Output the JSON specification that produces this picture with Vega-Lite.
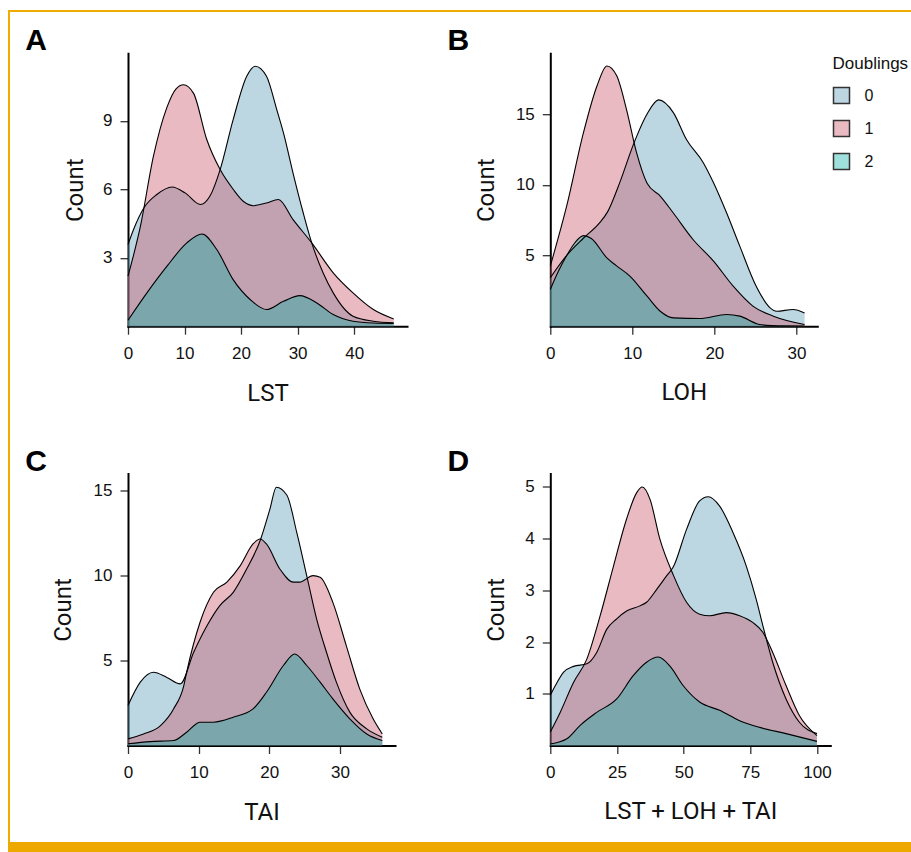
{
  "$schema": "https://vega.github.io/schema/vega-lite/v6.json",
  "padding": {"left": 8, "top": 10, "right": 0, "bottom": 0},
  "background": "white",
  "spacing": 0,
  "config": {
    "view": {"stroke": null},
    "font": "Liberation Sans",
    "axis": {"grid": false, "domainColor": "#000000", "domainWidth": 2, "domainCap": "square", "tickColor": "#333333", "tickWidth": 1.3, "tickSize": 8, "labelFont": "Liberation Sans", "labelFontSize": 17, "labelColor": "#111111", "labelFlush": false, "labelBound": false, "labelOverlap": false, "titleFont": "Roboto", "titleFontSize": 24, "titleFontWeight": "normal", "titleColor": "#111111", "titleBaseline": "alphabetic"},
    "axisX": {"labelPadding": 11},
    "axisY": {"labelPadding": 8, "titleAngle": 270},
    "legend": {"titleFont": "Liberation Sans", "titleFontSize": 17, "titleFontWeight": "normal", "titleColor": "#111111", "labelFont": "Liberation Sans", "labelFontSize": 16, "labelColor": "#111111", "symbolType": "square", "symbolSize": 256, "symbolStrokeColor": "#333333", "symbolStrokeWidth": 1.5, "rowPadding": 11, "titlePadding": 14, "labelOffset": 14, "padding": 0},
    "title": {"font": "Liberation Sans", "fontSize": 30, "fontWeight": "bold", "anchor": "start", "frame": "group", "baseline": "alphabetic", "offset": -3.2, "dx": -102.7, "color": "#000000"}
  },
  "datasets": {
    "lst": [
      {"Doublings": "0", "score": 0, "count": 3.58}, {"Doublings": "0", "score": 1, "count": 4.25}, {"Doublings": "0", "score": 2.8, "count": 5.18}, {"Doublings": "0", "score": 5.1, "count": 5.77}, {"Doublings": "0", "score": 7.8, "count": 6.1}, {"Doublings": "0", "score": 10.1, "count": 5.84}, {"Doublings": "0", "score": 12.8, "count": 5.33}, {"Doublings": "0", "score": 14.5, "count": 5.7}, {"Doublings": "0", "score": 16.3, "count": 6.86}, {"Doublings": "0", "score": 18.6, "count": 9.05}, {"Doublings": "0", "score": 21, "count": 10.95}, {"Doublings": "0", "score": 22.5, "count": 11.39}, {"Doublings": "0", "score": 24.5, "count": 10.95}, {"Doublings": "0", "score": 26.3, "count": 9.5}, {"Doublings": "0", "score": 27.5, "count": 8.47}, {"Doublings": "0", "score": 29.2, "count": 6.7}, {"Doublings": "0", "score": 31, "count": 4.96}, {"Doublings": "0", "score": 32.5, "count": 3.65}, {"Doublings": "0", "score": 34.5, "count": 2.34}, {"Doublings": "0", "score": 36.3, "count": 1.46}, {"Doublings": "0", "score": 39.8, "count": 0.44}, {"Doublings": "0", "score": 43.4, "count": 0.22}, {"Doublings": "0", "score": 47, "count": 0.15},
      {"Doublings": "1", "score": 0, "count": 2.19}, {"Doublings": "1", "score": 2.2, "count": 4.38}, {"Doublings": "1", "score": 4.5, "count": 7.45}, {"Doublings": "1", "score": 6.9, "count": 9.6}, {"Doublings": "1", "score": 8.5, "count": 10.4}, {"Doublings": "1", "score": 9.8, "count": 10.58}, {"Doublings": "1", "score": 11.6, "count": 10.2}, {"Doublings": "1", "score": 13.9, "count": 8.2}, {"Doublings": "1", "score": 16.3, "count": 6.86}, {"Doublings": "1", "score": 18.6, "count": 6.0}, {"Doublings": "1", "score": 20.5, "count": 5.45}, {"Doublings": "1", "score": 22.2, "count": 5.28}, {"Doublings": "1", "score": 24.5, "count": 5.4}, {"Doublings": "1", "score": 26.6, "count": 5.55}, {"Doublings": "1", "score": 29.2, "count": 4.67}, {"Doublings": "1", "score": 32.5, "count": 3.65}, {"Doublings": "1", "score": 36.3, "count": 2.34}, {"Doublings": "1", "score": 39.8, "count": 1.46}, {"Doublings": "1", "score": 43.4, "count": 0.73}, {"Doublings": "1", "score": 47, "count": 0.32},
      {"Doublings": "2", "score": 0, "count": 0.26}, {"Doublings": "2", "score": 3.35, "count": 1.46}, {"Doublings": "2", "score": 6.9, "count": 2.63}, {"Doublings": "2", "score": 10.4, "count": 3.65}, {"Doublings": "2", "score": 13.1, "count": 4.04}, {"Doublings": "2", "score": 15.7, "count": 3.36}, {"Doublings": "2", "score": 18.6, "count": 2.04}, {"Doublings": "2", "score": 21.6, "count": 1.17}, {"Doublings": "2", "score": 24.5, "count": 0.73}, {"Doublings": "2", "score": 27.5, "count": 1.09}, {"Doublings": "2", "score": 30.4, "count": 1.34}, {"Doublings": "2", "score": 33.4, "count": 1.02}, {"Doublings": "2", "score": 36.3, "count": 0.51}, {"Doublings": "2", "score": 39.8, "count": 0.22}, {"Doublings": "2", "score": 43.4, "count": 0.14}, {"Doublings": "2", "score": 47, "count": 0.12}
    ],
    "loh": [
      {"Doublings": "0", "score": 0, "count": 3.42}, {"Doublings": "0", "score": 2, "count": 5.0}, {"Doublings": "0", "score": 4, "count": 6.2}, {"Doublings": "0", "score": 6, "count": 7.3}, {"Doublings": "0", "score": 7, "count": 8.1}, {"Doublings": "0", "score": 8.5, "count": 10.2}, {"Doublings": "0", "score": 10.1, "count": 12.8}, {"Doublings": "0", "score": 11.8, "count": 15.0}, {"Doublings": "0", "score": 13.2, "count": 16.0}, {"Doublings": "0", "score": 15, "count": 15.1}, {"Doublings": "0", "score": 16.6, "count": 13.2}, {"Doublings": "0", "score": 18.65, "count": 11.56}, {"Doublings": "0", "score": 19.9, "count": 10.14}, {"Doublings": "0", "score": 21.5, "count": 8.0}, {"Doublings": "0", "score": 23.1, "count": 5.66}, {"Doublings": "0", "score": 25.1, "count": 2.83}, {"Doublings": "0", "score": 26.8, "count": 1.3}, {"Doublings": "0", "score": 27.6, "count": 1.06}, {"Doublings": "0", "score": 29.6, "count": 1.18}, {"Doublings": "0", "score": 31, "count": 0.94},
      {"Doublings": "1", "score": 0, "count": 4.25}, {"Doublings": "1", "score": 2, "count": 8.5}, {"Doublings": "1", "score": 4.05, "count": 13.7}, {"Doublings": "1", "score": 5.7, "count": 17.0}, {"Doublings": "1", "score": 6.9, "count": 18.4}, {"Doublings": "1", "score": 8.1, "count": 17.7}, {"Doublings": "1", "score": 9.3, "count": 15.3}, {"Doublings": "1", "score": 10.5, "count": 12.3}, {"Doublings": "1", "score": 11.8, "count": 10.1}, {"Doublings": "1", "score": 13.4, "count": 9.2}, {"Doublings": "1", "score": 15, "count": 8.0}, {"Doublings": "1", "score": 17.4, "count": 6.13}, {"Doublings": "1", "score": 19.9, "count": 4.6}, {"Doublings": "1", "score": 22.3, "count": 2.83}, {"Doublings": "1", "score": 24.7, "count": 1.42}, {"Doublings": "1", "score": 27.2, "count": 0.71}, {"Doublings": "1", "score": 31, "count": 0.12},
      {"Doublings": "2", "score": 0, "count": 2.6}, {"Doublings": "2", "score": 1, "count": 3.9}, {"Doublings": "2", "score": 2, "count": 5.0}, {"Doublings": "2", "score": 3, "count": 5.9}, {"Doublings": "2", "score": 4.05, "count": 6.4}, {"Doublings": "2", "score": 5, "count": 6.2}, {"Doublings": "2", "score": 6.9, "count": 4.83}, {"Doublings": "2", "score": 8, "count": 4.3}, {"Doublings": "2", "score": 9.7, "count": 3.54}, {"Doublings": "2", "score": 11.8, "count": 2.12}, {"Doublings": "2", "score": 13.4, "count": 1.06}, {"Doublings": "2", "score": 15, "count": 0.59}, {"Doublings": "2", "score": 18.2, "count": 0.54}, {"Doublings": "2", "score": 21.5, "count": 0.83}, {"Doublings": "2", "score": 23.1, "count": 0.71}, {"Doublings": "2", "score": 25.5, "count": 0.12}, {"Doublings": "2", "score": 27, "count": 0.04}, {"Doublings": "2", "score": 31, "count": 0.01}
    ],
    "tai": [
      {"Doublings": "0", "score": 0, "count": 2.35}, {"Doublings": "0", "score": 1.74, "count": 3.72}, {"Doublings": "0", "score": 3.6, "count": 4.3}, {"Doublings": "0", "score": 5.5, "count": 4.0}, {"Doublings": "0", "score": 7.4, "count": 3.62}, {"Doublings": "0", "score": 9.3, "count": 5.48}, {"Doublings": "0", "score": 11.2, "count": 7.05}, {"Doublings": "0", "score": 13, "count": 8.22}, {"Doublings": "0", "score": 14.9, "count": 9.0}, {"Doublings": "0", "score": 16.8, "count": 10.37}, {"Doublings": "0", "score": 18.7, "count": 12.03}, {"Doublings": "0", "score": 20.1, "count": 13.9}, {"Doublings": "0", "score": 21, "count": 15.17}, {"Doublings": "0", "score": 22.5, "count": 14.7}, {"Doublings": "0", "score": 23.9, "count": 12.5}, {"Doublings": "0", "score": 25.3, "count": 9.98}, {"Doublings": "0", "score": 26.7, "count": 7.44}, {"Doublings": "0", "score": 28.1, "count": 5.48}, {"Doublings": "0", "score": 29.5, "count": 3.72}, {"Doublings": "0", "score": 31.4, "count": 1.96}, {"Doublings": "0", "score": 33.8, "count": 0.98}, {"Doublings": "0", "score": 36, "count": 0.49},
      {"Doublings": "1", "score": 0, "count": 0.39}, {"Doublings": "1", "score": 2.2, "count": 0.68}, {"Doublings": "1", "score": 4.6, "count": 1.17}, {"Doublings": "1", "score": 6.45, "count": 2.15}, {"Doublings": "1", "score": 7.9, "count": 3.52}, {"Doublings": "1", "score": 8.3, "count": 4.3}, {"Doublings": "1", "score": 10.2, "count": 7.24}, {"Doublings": "1", "score": 12.1, "count": 9.0}, {"Doublings": "1", "score": 14, "count": 9.6}, {"Doublings": "1", "score": 15.9, "count": 10.57}, {"Doublings": "1", "score": 17.7, "count": 11.84}, {"Doublings": "1", "score": 18.7, "count": 12.13}, {"Doublings": "1", "score": 19.6, "count": 11.84}, {"Doublings": "1", "score": 21.5, "count": 10.37}, {"Doublings": "1", "score": 23.4, "count": 9.6}, {"Doublings": "1", "score": 24.3, "count": 9.6}, {"Doublings": "1", "score": 26.2, "count": 9.98}, {"Doublings": "1", "score": 27.2, "count": 9.88}, {"Doublings": "1", "score": 29, "count": 8.41}, {"Doublings": "1", "score": 30.9, "count": 5.87}, {"Doublings": "1", "score": 32.8, "count": 3.33}, {"Doublings": "1", "score": 34.7, "count": 1.57}, {"Doublings": "1", "score": 36, "count": 0.68},
      {"Doublings": "2", "score": 0, "count": 0.1}, {"Doublings": "2", "score": 3.15, "count": 0.23}, {"Doublings": "2", "score": 6.45, "count": 0.29}, {"Doublings": "2", "score": 8.3, "count": 0.78}, {"Doublings": "2", "score": 10.2, "count": 1.37}, {"Doublings": "2", "score": 12.1, "count": 1.37}, {"Doublings": "2", "score": 14.9, "count": 1.66}, {"Doublings": "2", "score": 17.7, "count": 2.15}, {"Doublings": "2", "score": 19.6, "count": 3.13}, {"Doublings": "2", "score": 22, "count": 4.7}, {"Doublings": "2", "score": 23.6, "count": 5.38}, {"Doublings": "2", "score": 25.3, "count": 4.7}, {"Doublings": "2", "score": 27.2, "count": 3.72}, {"Doublings": "2", "score": 29, "count": 2.74}, {"Doublings": "2", "score": 31.4, "count": 1.57}, {"Doublings": "2", "score": 33.8, "count": 0.68}, {"Doublings": "2", "score": 36, "count": 0.29}
    ],
    "sum": [
      {"Doublings": "0", "score": 0, "count": 0.97}, {"Doublings": "0", "score": 1.9, "count": 1.16}, {"Doublings": "0", "score": 5, "count": 1.42}, {"Doublings": "0", "score": 8.7, "count": 1.53}, {"Doublings": "0", "score": 13.7, "count": 1.58}, {"Doublings": "0", "score": 17.4, "count": 1.8}, {"Doublings": "0", "score": 21.2, "count": 2.25}, {"Doublings": "0", "score": 24.9, "count": 2.45}, {"Doublings": "0", "score": 28.6, "count": 2.6}, {"Doublings": "0", "score": 33.6, "count": 2.7}, {"Doublings": "0", "score": 36.1, "count": 2.77}, {"Doublings": "0", "score": 39.9, "count": 3.02}, {"Doublings": "0", "score": 43.6, "count": 3.28}, {"Doublings": "0", "score": 46.1, "count": 3.45}, {"Doublings": "0", "score": 51.1, "count": 4.18}, {"Doublings": "0", "score": 56, "count": 4.73}, {"Doublings": "0", "score": 59.2, "count": 4.81}, {"Doublings": "0", "score": 63.5, "count": 4.63}, {"Doublings": "0", "score": 68.5, "count": 4.12}, {"Doublings": "0", "score": 73.5, "count": 3.47}, {"Doublings": "0", "score": 77.2, "count": 2.83}, {"Doublings": "0", "score": 79.7, "count": 2.32}, {"Doublings": "0", "score": 83.4, "count": 1.61}, {"Doublings": "0", "score": 88.4, "count": 0.9}, {"Doublings": "0", "score": 93.4, "count": 0.45}, {"Doublings": "0", "score": 100, "count": 0.23},
      {"Doublings": "1", "score": 0, "count": 0.26}, {"Doublings": "1", "score": 3.7, "count": 0.64}, {"Doublings": "1", "score": 8.7, "count": 1.22}, {"Doublings": "1", "score": 13.7, "count": 1.67}, {"Doublings": "1", "score": 18.7, "count": 2.51}, {"Doublings": "1", "score": 23.7, "count": 3.47}, {"Doublings": "1", "score": 28.6, "count": 4.38}, {"Doublings": "1", "score": 32.4, "count": 4.89}, {"Doublings": "1", "score": 34.5, "count": 5.0}, {"Doublings": "1", "score": 37.4, "count": 4.76}, {"Doublings": "1", "score": 41.1, "count": 3.99}, {"Doublings": "1", "score": 46.1, "count": 3.3}, {"Doublings": "1", "score": 51.1, "count": 2.77}, {"Doublings": "1", "score": 56, "count": 2.54}, {"Doublings": "1", "score": 59.8, "count": 2.51}, {"Doublings": "1", "score": 66, "count": 2.57}, {"Doublings": "1", "score": 71, "count": 2.51}, {"Doublings": "1", "score": 75.9, "count": 2.38}, {"Doublings": "1", "score": 79.7, "count": 2.19}, {"Doublings": "1", "score": 83.4, "count": 1.8}, {"Doublings": "1", "score": 88.4, "count": 1.16}, {"Doublings": "1", "score": 93.4, "count": 0.58}, {"Doublings": "1", "score": 100, "count": 0.19},
      {"Doublings": "2", "score": 0, "count": 0.03}, {"Doublings": "2", "score": 6.2, "count": 0.13}, {"Doublings": "2", "score": 11.2, "count": 0.39}, {"Doublings": "2", "score": 17.4, "count": 0.64}, {"Doublings": "2", "score": 24.9, "count": 0.9}, {"Doublings": "2", "score": 31.1, "count": 1.35}, {"Doublings": "2", "score": 36.1, "count": 1.61}, {"Doublings": "2", "score": 40.5, "count": 1.71}, {"Doublings": "2", "score": 44.8, "count": 1.54}, {"Doublings": "2", "score": 49.8, "count": 1.16}, {"Doublings": "2", "score": 56, "count": 0.84}, {"Doublings": "2", "score": 63.5, "count": 0.68}, {"Doublings": "2", "score": 71, "count": 0.48}, {"Doublings": "2", "score": 78.5, "count": 0.35}, {"Doublings": "2", "score": 88.4, "count": 0.23}, {"Doublings": "2", "score": 100, "count": 0.08}
    ]
  },
  "vconcat": [
    {"data": {"values": []}, "mark": "point", "encoding": {}, "width": 903, "height": 2, "view": {"fill": "#f0ad00", "stroke": null}},
    {
      "spacing": 15,
      "hconcat": [
        {"data": {"values": []}, "mark": "point", "encoding": {}, "width": 2, "height": 830, "view": {"fill": "#f0ad00", "stroke": null}},
        {
          "spacing": 13.2,
          "vconcat": [
            {"data": {"values": []}, "mark": "point", "encoding": {}, "width": 1, "height": 1},
            {
              "bounds": "flush",
              "columns": 2,
              "spacing": {"row": 147.3, "column": 143.3},
              "concat": [
                {
                  "width": 279, "height": 273,
                  "title": {"text": "A"},
                  "data": {"name": "lst"},
                  "layer": [
                    {"mark": {"type": "area", "interpolate": "monotone", "fillOpacity": 0.4},
                     "encoding": {
                       "x": {"field": "score", "type": "quantitative", "scale": {"domain": [0, 49.35], "nice": false, "zero": false}, "axis": {"title": "LST", "values": [0, 10, 20, 30, 40], "titleX": 139.5, "titleY": 74.3}},
                       "y": {"field": "count", "type": "quantitative", "stack": null, "scale": {"domain": [0, 11.96], "nice": false}, "axis": {"title": "Count", "values": [3, 6, 9], "titleX": -46, "titleY": 136.5}},
                       "fill": {"field": "Doublings", "type": "nominal", "scale": {"domain": ["0", "1", "2"], "range": ["#5798b6", "#ca5266", "#11b1a7"]}, "legend": {"orient": "none", "legendX": 824.5, "legendY": 45.5, "title": "Doublings", "encode": {"symbols": {"update": {"fillOpacity": {"value": 0.4}, "stroke": {"value": "#333333"}, "strokeWidth": {"value": 1.5}, "opacity": {"value": 1}}}}}}
                     }},
                    {"mark": {"type": "line", "interpolate": "monotone", "color": "#000000", "strokeWidth": 1.1},
                     "encoding": {
                       "x": {"field": "score", "type": "quantitative"},
                       "y": {"field": "count", "type": "quantitative"},
                       "detail": {"field": "Doublings", "type": "nominal"}
                     }}
                  ]
                },
                {
                  "width": 267, "height": 273,
                  "title": {"text": "B"},
                  "data": {"name": "loh"},
                  "layer": [
                    {"mark": {"type": "area", "interpolate": "monotone", "fillOpacity": 0.4},
                     "encoding": {
                       "x": {"field": "score", "type": "quantitative", "scale": {"domain": [0, 32.55], "nice": false, "zero": false}, "axis": {"title": "LOH", "values": [0, 10, 20, 30], "titleX": 133.5, "titleY": 73.3}},
                       "y": {"field": "count", "type": "quantitative", "stack": null, "scale": {"domain": [0, 19.3], "nice": false}, "axis": {"title": "Count", "values": [5, 10, 15], "titleX": -56.7, "titleY": 136.5}},
                       "fill": {"field": "Doublings", "type": "nominal", "scale": {"domain": ["0", "1", "2"], "range": ["#5798b6", "#ca5266", "#11b1a7"]}, "legend": {"orient": "none", "legendX": 824.5, "legendY": 45.5, "title": "Doublings", "encode": {"symbols": {"update": {"fillOpacity": {"value": 0.4}, "stroke": {"value": "#333333"}, "strokeWidth": {"value": 1.5}, "opacity": {"value": 1}}}}}}
                     }},
                    {"mark": {"type": "line", "interpolate": "monotone", "color": "#000000", "strokeWidth": 1.1},
                     "encoding": {
                       "x": {"field": "score", "type": "quantitative"},
                       "y": {"field": "count", "type": "quantitative"},
                       "detail": {"field": "Doublings", "type": "nominal"}
                     }}
                  ]
                },
                {
                  "width": 267, "height": 272,
                  "title": {"text": "C"},
                  "data": {"name": "tai"},
                  "layer": [
                    {"mark": {"type": "area", "interpolate": "monotone", "fillOpacity": 0.4},
                     "encoding": {
                       "x": {"field": "score", "type": "quantitative", "scale": {"domain": [0, 37.8], "nice": false, "zero": false}, "axis": {"title": "TAI", "values": [0, 10, 20, 30], "titleX": 133.5, "titleY": 74.3}},
                       "y": {"field": "count", "type": "quantitative", "stack": null, "scale": {"domain": [0, 15.98], "nice": false}, "axis": {"title": "Count", "values": [5, 10, 15], "titleX": -57.7, "titleY": 136}},
                       "fill": {"field": "Doublings", "type": "nominal", "scale": {"domain": ["0", "1", "2"], "range": ["#5798b6", "#ca5266", "#11b1a7"]}, "legend": {"orient": "none", "legendX": 824.5, "legendY": 45.5, "title": "Doublings", "encode": {"symbols": {"update": {"fillOpacity": {"value": 0.4}, "stroke": {"value": "#333333"}, "strokeWidth": {"value": 1.5}, "opacity": {"value": 1}}}}}}
                     }},
                    {"mark": {"type": "line", "interpolate": "monotone", "color": "#000000", "strokeWidth": 1.1},
                     "encoding": {
                       "x": {"field": "score", "type": "quantitative"},
                       "y": {"field": "count", "type": "quantitative"},
                       "detail": {"field": "Doublings", "type": "nominal"}
                     }}
                  ]
                },
                {
                  "width": 280, "height": 272,
                  "title": {"text": "D"},
                  "data": {"name": "sum"},
                  "layer": [
                    {"mark": {"type": "area", "interpolate": "monotone", "fillOpacity": 0.4},
                     "encoding": {
                       "x": {"field": "score", "type": "quantitative", "scale": {"domain": [0, 105], "nice": false, "zero": false}, "axis": {"title": "LST + LOH + TAI", "values": [0, 25, 50, 75, 100], "titleX": 140, "titleY": 73.3}},
                       "y": {"field": "count", "type": "quantitative", "stack": null, "scale": {"domain": [0, 5.26], "nice": false}, "axis": {"title": "Count", "values": [1, 2, 3, 4, 5], "titleX": -47.3, "titleY": 136}},
                       "fill": {"field": "Doublings", "type": "nominal", "scale": {"domain": ["0", "1", "2"], "range": ["#5798b6", "#ca5266", "#11b1a7"]}, "legend": {"orient": "none", "legendX": 824.5, "legendY": 45.5, "title": "Doublings", "encode": {"symbols": {"update": {"fillOpacity": {"value": 0.4}, "stroke": {"value": "#333333"}, "strokeWidth": {"value": 1.5}, "opacity": {"value": 1}}}}}}
                     }},
                    {"mark": {"type": "line", "interpolate": "monotone", "color": "#000000", "strokeWidth": 1.1},
                     "encoding": {
                       "x": {"field": "score", "type": "quantitative"},
                       "y": {"field": "count", "type": "quantitative"},
                       "detail": {"field": "Doublings", "type": "nominal"}
                     }}
                  ]
                }
              ]
            }
          ]
        }
      ]
    },
    {"data": {"values": []}, "mark": "point", "encoding": {}, "width": 903, "height": 10, "view": {"fill": "#eda900", "stroke": null}}
  ]
}
